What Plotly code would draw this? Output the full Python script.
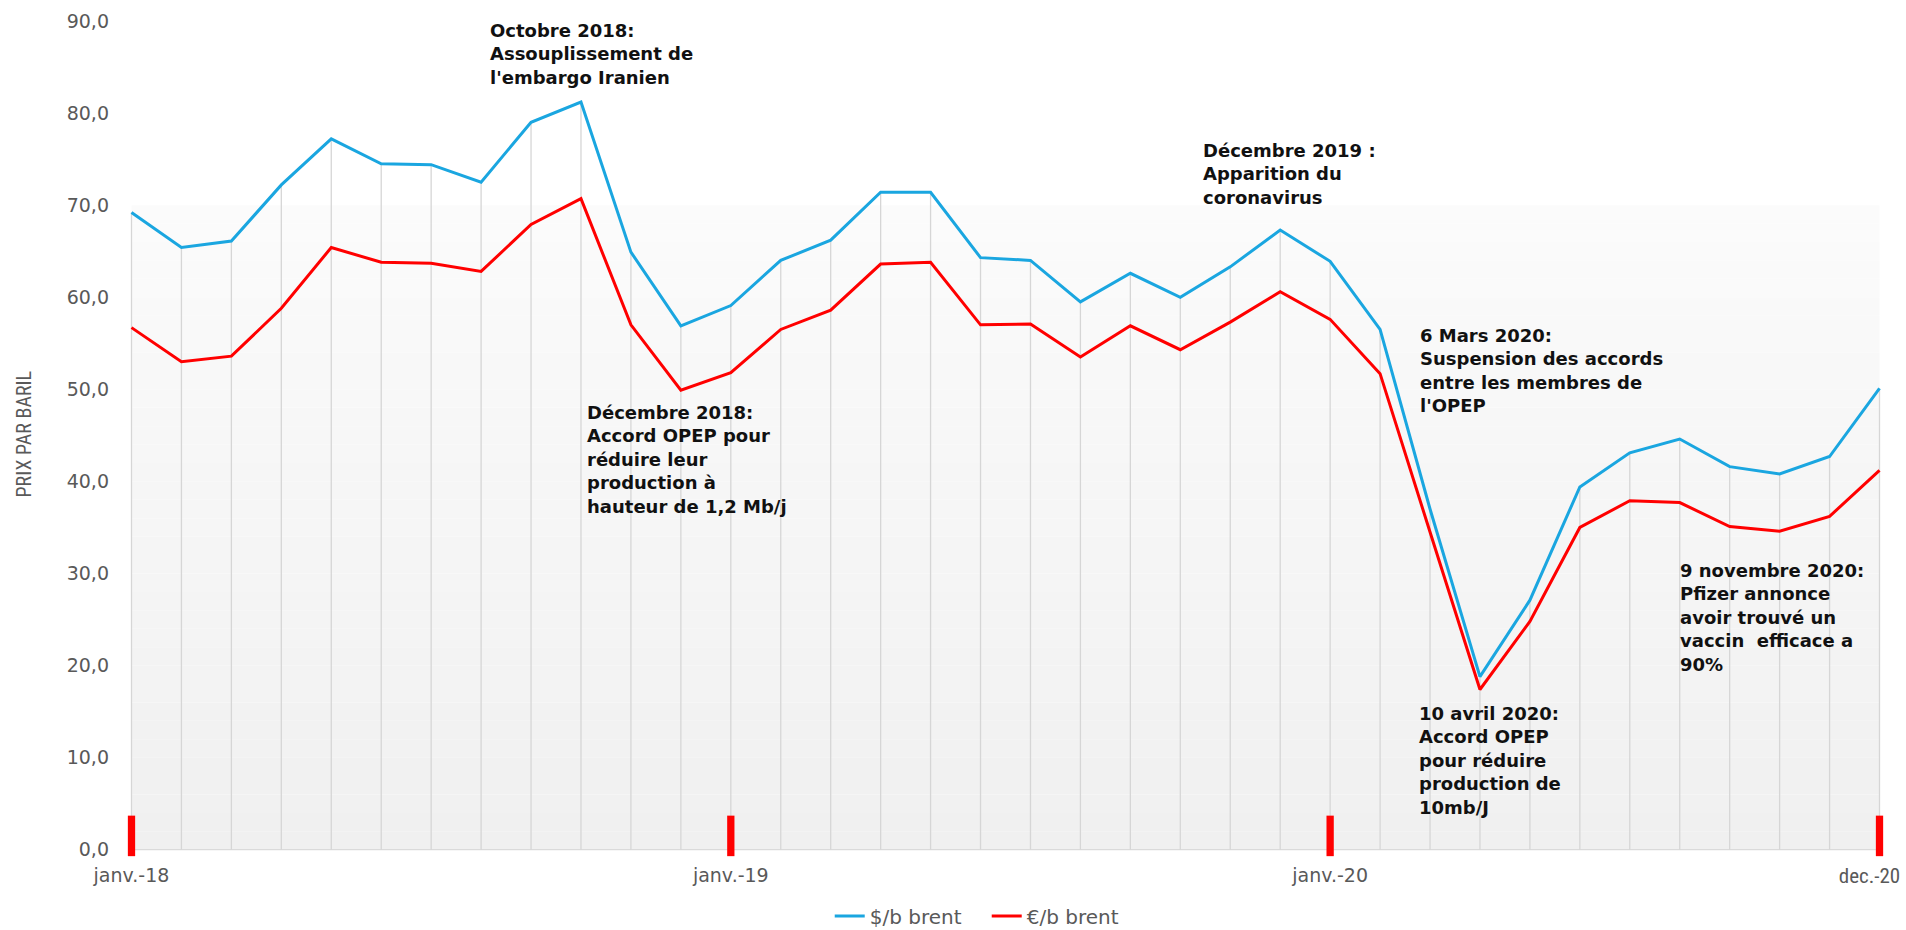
import plotly.graph_objects as go

# ---------------- data ----------------
months = [
    "janv.-18", "févr.-18", "mars-18", "avr.-18", "mai-18", "juin-18",
    "juil.-18", "août-18", "sept.-18", "oct.-18", "nov.-18", "déc.-18",
    "janv.-19", "févr.-19", "mars-19", "avr.-19", "mai-19", "juin-19",
    "juil.-19", "août-19", "sept.-19", "oct.-19", "nov.-19", "déc.-19",
    "janv.-20", "févr.-20", "mars-20", "avr.-20", "mai-20", "juin-20",
    "juil.-20", "août-20", "sept.-20", "oct.-20", "nov.-20", "déc.-20",
]
usd_brent = [
    69.2, 65.4, 66.1, 72.2, 77.2, 74.5, 74.4, 72.5, 79.0, 81.2, 64.9, 56.9,
    59.1, 64.0, 66.2, 71.4, 71.4, 64.3, 64.0, 59.5, 62.6, 60.0, 63.3, 67.3,
    63.9, 56.5, 37.0, 18.8, 27.1, 39.4, 43.1, 44.6, 41.6, 40.8, 42.7, 50.1,
]
eur_brent = [
    56.7, 53.0, 53.6, 58.8, 65.4, 63.8, 63.7, 62.8, 67.9, 70.7, 57.0, 49.9,
    51.8, 56.5, 58.6, 63.6, 63.8, 57.0, 57.1, 53.5, 56.9, 54.3, 57.3, 60.6,
    57.6, 51.7, 34.5, 17.4, 24.8, 35.0, 37.9, 37.7, 35.1, 34.6, 36.2, 41.2,
]
tick_months = ["janv.-18", "janv.-19", "janv.-20"]
tick_labels = ["janv.-18", "janv.-19", "janv.-20"]
last_month = "déc.-20"
last_label = "dec.-20"
marker_months = ["janv.-18", "janv.-19", "janv.-20", "déc.-20"]
y_ticks = [0, 10, 20, 30, 40, 50, 60, 70, 80, 90]
series_names = ["$/b brent", "€/b brent"]
y_title = "PRIX PAR BARIL"

# annotation texts and anchors (month index, price value at box top, extra px shift)
notes = [
    (["Octobre 2018:", "Assouplissement de", "l'embargo Iranien"], 7.13, 90.0, 3),
    (["Décembre 2018:", "Accord OPEP pour", "réduire leur", "production à",
      "hauteur de 1,2 Mb/j"], 9.09, 48.84, 0),
    (["Décembre 2019 :", "Apparition du", "coronavirus"], 21.42, 77.32, 0),
    (["6 Mars 2020:", "Suspension des accords", "entre les membres de",
      "l'OPEP"], 25.75, 57.2, 0),
    (["10 avril 2020:", "Accord OPEP", "pour réduire", "production de",
      "10mb/J"], 25.73, 16.15, 0),
    (["9 novembre 2020:", "Pfizer annonce", "avoir trouvé un",
      "vaccin  efficace a", "90%"], 30.96, 31.65, 0),
]

# ---------------- styles ----------------
BLUE = "#1AA6E0"
RED = "#FF0000"
GREY_TXT = "#595959"
FONT = "DejaVu Sans"
NARROW = "Liberation Sans Narrow, Arial Narrow, Roboto Condensed, DejaVu Sans Condensed, sans-serif"

n = len(months)
idx = {m: i for i, m in enumerate(months)}
x_range = [-0.15, n - 1 + 0.15]

fig = go.Figure()

# drop lines from the $ series to the axis
dx, dy = [], []
for m, v in zip(months, usd_brent):
    dx += [m, m, None]
    dy += [0, v, None]
fig.add_trace(go.Scatter(x=dx, y=dy, mode="lines",
                         line=dict(color="#D6D6D6", width=1.3),
                         hoverinfo="skip", showlegend=False))

fig.add_trace(go.Scatter(x=months, y=usd_brent, mode="lines", name=series_names[0],
                         line=dict(color=BLUE, width=3)))
fig.add_trace(go.Scatter(x=months, y=eur_brent, mode="lines", name=series_names[1],
                         line=dict(color=RED, width=3)))
# invisible trace so that the secondary x axis (last tick label) is drawn
fig.add_trace(go.Scatter(x=[idx[last_month]], y=[None], xaxis="x2", yaxis="y",
                         mode="markers", showlegend=False, hoverinfo="skip"))

shapes = []
# gradient background (bands)
top_val = 70.0
nb = 35
for k in range(nb):
    y0 = top_val * k / nb
    y1 = top_val * (k + 1) / nb
    t = (k + 0.5) / nb
    g = int(round(240 + (251 - 240) * t))
    shapes.append(dict(type="rect", xref="x", yref="y", x0=0, x1=n - 1,
                       y0=y0, y1=y1, fillcolor=f"rgb({g},{g},{g})",
                       line=dict(width=0), layer="below"))
# baseline
shapes.append(dict(type="line", xref="x", yref="y", x0=0, x1=n - 1, y0=0, y1=0,
                   line=dict(color="#DADADA", width=1.2), layer="below"))
# red year markers
for m in marker_months:
    i = idx[m]
    shapes.append(dict(type="rect", xref="x", yref="y", x0=i - 0.073, x1=i + 0.073,
                       y0=-0.7, y1=3.7, fillcolor=RED, line=dict(width=0),
                       layer="above"))

annotations = []
for lines, ax, ay, ys in notes:
    annotations.append(dict(
        text="<br>".join(lines), x=ax, y=ay, xref="x", yref="y", yshift=ys,
        xanchor="left", yanchor="top", align="left", showarrow=False,
        font=dict(family=FONT, size=18, color="#111111", weight="bold"),
    ))
annotations.append(dict(
    text=y_title, x=-0.0567, y=45.1, xref="paper", yref="y", textangle=-90,
    xanchor="center", yanchor="middle", showarrow=False,
    font=dict(family=NARROW, size=20, color=GREY_TXT),
))

fig.update_layout(
    width=1906, height=930,
    margin=dict(l=124, r=19, t=21, b=72, pad=0),
    paper_bgcolor="white", plot_bgcolor="white",
    separators=", ",
    font=dict(family=FONT, size=19, color=GREY_TXT),
    xaxis=dict(type="category", range=x_range, automargin=False,
               tickmode="array", tickvals=tick_months, ticktext=tick_labels,
               showgrid=False, zeroline=False, showline=False, ticks="",
               ticklabelstandoff=4, tickfont=dict(size=19, color=GREY_TXT)),
    xaxis2=dict(type="linear", range=x_range, overlaying="x", anchor="y",
                side="bottom", automargin=False,
                tickmode="array", tickvals=[idx[last_month]], ticktext=[last_label],
                showgrid=False, zeroline=False, showline=False, ticks="",
                ticklabelstandoff=3, ticklabelshift=-10,
                tickfont=dict(family=NARROW, size=21, color=GREY_TXT)),
    yaxis=dict(range=[-0.9, 90], tickmode="array", tickvals=y_ticks,
               tickformat=".1f", showgrid=False, zeroline=False, automargin=False,
               showline=False, ticks="", ticklabelstandoff=14,
               tickfont=dict(size=19, color=GREY_TXT)),
    legend=dict(orientation="h", x=0.4003, xref="paper",
                y=0.015, yref="container", xanchor="left",
                yanchor="middle", font=dict(size=20, color=GREY_TXT),
                bgcolor="rgba(0,0,0,0)", itemwidth=30,
                entrywidth=112, entrywidthmode="pixels"),
    shapes=shapes,
    annotations=annotations,
    showlegend=True,
)

fig.write_html("out.html")
